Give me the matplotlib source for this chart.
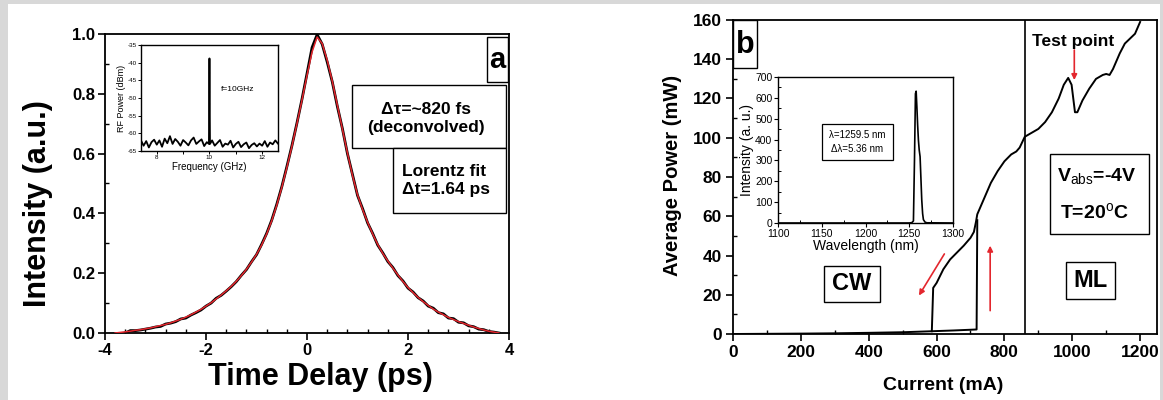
import numpy as np
import matplotlib
matplotlib.use("Agg")
import matplotlib.pyplot as plt
from matplotlib.patches import Rectangle
from matplotlib.ticker import MultipleLocator

plt.rcParams['font.family'] = ['Liberation Sans', 'DejaVu Sans']
plt.rcParams['mathtext.fontset'] = 'custom'
plt.rcParams['mathtext.rm'] = 'Liberation Sans'
plt.rcParams['mathtext.bf'] = 'Liberation Sans:bold'
plt.rcParams['axes.unicode_minus'] = False

# ---- panel a: autocorrelation trace
delay = np.round(np.arange(-3.6, 3.85, 0.1), 2)
intensity = [0.000, 0.008, 0.008, 0.010, 0.013, 0.016, 0.020, 0.022, 0.030, 0.033,
             0.038, 0.047, 0.050, 0.060, 0.068, 0.077, 0.090, 0.100, 0.116, 0.126,
             0.140, 0.155, 0.172, 0.193, 0.212, 0.238, 0.262, 0.296, 0.333, 0.377,
             0.430, 0.489, 0.556, 0.626, 0.702, 0.782, 0.868, 0.955, 0.998, 0.966,
             0.906, 0.840, 0.758, 0.684, 0.600, 0.530, 0.460, 0.416, 0.368, 0.333,
             0.294, 0.268, 0.239, 0.219, 0.192, 0.174, 0.150, 0.137, 0.118, 0.107,
             0.090, 0.083, 0.068, 0.064, 0.050, 0.048, 0.036, 0.034, 0.024, 0.021,
             0.013, 0.011, 0.005, 0.003, 0.000]

fit_t = np.round(np.arange(-3.8, 3.85, 0.1), 2)
fit_I = [0.000, 0.002, 0.004, 0.006, 0.009, 0.011, 0.014, 0.017, 0.021, 0.025,
         0.029, 0.034, 0.040, 0.046, 0.053, 0.061, 0.070, 0.079, 0.090, 0.101,
         0.114, 0.127, 0.141, 0.156, 0.173, 0.192, 0.213, 0.237, 0.263, 0.294,
         0.331, 0.375, 0.427, 0.487, 0.553, 0.624, 0.700, 0.779, 0.862, 0.940,
         0.990, 0.968, 0.912, 0.842, 0.762, 0.682, 0.602, 0.527, 0.462, 0.413,
         0.370, 0.331, 0.296, 0.266, 0.241, 0.217, 0.194, 0.172, 0.152, 0.135,
         0.119, 0.105, 0.092, 0.080, 0.070, 0.061, 0.052, 0.045, 0.038, 0.032,
         0.026, 0.020, 0.015, 0.010, 0.006, 0.003, 0.000]

# inset a: RF spectrum
freq = [7.4, 7.5, 7.6, 7.7, 7.8, 7.9, 8.0, 8.1, 8.2, 8.3, 8.4, 8.5, 8.6, 8.7, 8.8,
        8.9, 9.0, 9.1, 9.2, 9.3, 9.4, 9.5, 9.6, 9.7, 9.8, 9.9, 9.98, 10.0, 10.02,
        10.1, 10.2, 10.3, 10.4, 10.5, 10.6, 10.7, 10.8, 10.9, 11.0, 11.1, 11.2,
        11.3, 11.4, 11.5, 11.6, 11.7, 11.8, 11.9, 12.0, 12.1, 12.2, 12.3, 12.4,
        12.5, 12.6]
rf_power = [-62.0, -63.5, -62.2, -64.0, -62.5, -61.8, -63.2, -62.0, -63.8, -61.5,
            -62.8, -60.8, -63.0, -61.6, -62.4, -63.5, -61.9, -62.6, -63.4, -62.0,
            -61.2, -63.0, -62.3, -61.7, -63.6, -62.5, -63.0, -38.8, -63.0,
            -62.0, -63.5, -62.7, -61.9, -63.8, -62.9, -63.2, -62.1, -64.0, -63.0,
            -62.4, -63.9, -63.1, -62.6, -64.2, -63.3, -62.8, -63.7, -62.9, -63.5,
            -62.2, -63.8, -62.6, -63.1, -62.0, -62.9]

# ---- panel b: L-I curve
base_current = [0, 100, 200, 300, 400, 500, 585, 650, 718, 720]
base_power = [0, 0.1, 0.2, 0.35, 0.6, 0.9, 1.4, 1.8, 2.3, 58]
upper_current = [586, 590, 600, 620, 640, 660, 680, 700, 710, 716, 720, 740, 760,
                 780, 800, 820, 835, 845, 860, 880, 900, 920, 940, 960, 975, 988,
                 998, 1008, 1015, 1030, 1050, 1070, 1090, 1100, 1110, 1120, 1140,
                 1155, 1170, 1185, 1195, 1200]
upper_power = [1.4, 23.5, 26, 33, 38, 41.5, 45, 49, 52, 57, 61, 69, 77,
               83, 88, 91.5, 93, 95, 100.5, 102.5, 104.5, 108, 113, 120, 127, 130.5,
               127, 113, 113, 119, 125, 130, 132, 132.5, 132, 135, 143,
               148, 150.5, 153, 157, 159]

# inset b: optical spectrum
wavelength = [1100, 1150, 1200, 1250, 1253, 1254.7, 1255.9, 1257, 1257.8, 1258.6,
              1259.5, 1260.4, 1261.3, 1262.3, 1263.2, 1264.2, 1265.2, 1266.1,
              1268, 1270, 1300]
spectrum = [0, 0, 0, 0, 2, 10, 302, 620, 632, 560,
            470, 397, 350, 318, 220, 111, 45, 16,
            4, 1, 0]

RED = '#e3262d'

fig = plt.figure(figsize=(11.63, 4.0), dpi=100)
fig.patch.set_facecolor('#d8d8d8')
fig.add_artist(Rectangle((8 / 1163, 0), 1152 / 1163, 396 / 400, transform=fig.transFigure,
                         facecolor='white', edgecolor='none', zorder=-5))

# ================= panel a
ax1 = fig.add_axes([0.0903, 0.1675, 0.3474, 0.7475])
ax1.plot(delay, intensity, color='black', lw=2.0, zorder=2)
ax1.plot(fit_t, fit_I, color=RED, lw=1.1, zorder=3)
ax1.set_xlim(-4, 4)
ax1.set_ylim(0, 1.0)
ax1.xaxis.set_major_locator(MultipleLocator(2))
ax1.xaxis.set_minor_locator(MultipleLocator(0.4))
ax1.yaxis.set_major_locator(MultipleLocator(0.2))
ax1.yaxis.set_minor_locator(MultipleLocator(0.1))
ax1.yaxis.set_major_formatter(plt.FormatStrFormatter('%.1f'))
ax1.tick_params(which='major', direction='out', length=5, width=1.2, labelsize=12, pad=2)
ax1.tick_params(which='minor', direction='in', length=3, width=1)
for lab in ax1.get_xticklabels() + ax1.get_yticklabels():
    lab.set_fontweight('bold')
for s in ax1.spines.values():
    s.set_linewidth(1.3)

# label boxes
ax1.add_patch(Rectangle((0.946, 0.839), 0.052, 0.151, transform=ax1.transAxes,
                        facecolor='white', edgecolor='black', lw=1, zorder=5))
ax1.text(0.972, 0.912, 'a', transform=ax1.transAxes, ha='center', va='center',
         fontsize=21, fontweight='bold', zorder=6)
ax1.add_patch(Rectangle((0.611, 0.619), 0.382, 0.21, transform=ax1.transAxes,
                        facecolor='white', edgecolor='black', lw=1, zorder=5))
ax1.text(0.795, 0.717, 'Δτ=~820 fs\n(deconvolved)', transform=ax1.transAxes,
         ha='center', va='center', fontsize=12.5, fontweight='bold', linespacing=1.3, zorder=6)
ax1.add_patch(Rectangle((0.713, 0.401), 0.28, 0.218, transform=ax1.transAxes,
                        facecolor='white', edgecolor='black', lw=1, zorder=5))
ax1.text(0.734, 0.51, 'Lorentz fit\nΔt=1.64 ps', transform=ax1.transAxes,
         ha='left', va='center', fontsize=12.5, fontweight='bold', linespacing=1.3, zorder=6)

fig.text(38 / 1163, 1 - 204 / 400, 'Intensity (a.u.)', rotation=90, ha='center', va='center',
         fontsize=22, fontweight='bold')
fig.text(320 / 1163, 1 - 377 / 400, 'Time Delay (ps)', ha='center', va='center',
         fontsize=22, fontweight='bold')

# inset a
axi1 = fig.add_axes([0.1212, 0.6225, 0.1178, 0.265])
axi1.plot(freq, rf_power, color='black', lw=1.3)
axi1.set_xlim(7.4, 12.6)
axi1.set_ylim(-65, -35)
axi1.xaxis.set_major_locator(MultipleLocator(2))
axi1.xaxis.set_minor_locator(MultipleLocator(1))
axi1.yaxis.set_major_locator(MultipleLocator(5))
axi1.tick_params(which='both', direction='out', length=2, width=0.7, labelsize=4.5, pad=1)
axi1.set_xlabel('Frequency (GHz)', fontsize=7, labelpad=1)
axi1.set_ylabel('RF Power (dBm)', fontsize=6.5, labelpad=1)
axi1.text(11.08, -47.7, 'f=10GHz', ha='center', va='center', fontsize=6)
for s in axi1.spines.values():
    s.set_linewidth(1)

# ================= panel b
ax2 = fig.add_axes([0.6303, 0.165, 0.3646, 0.785])
ax2.plot(base_current, base_power, color='black', lw=1.4)
ax2.plot(upper_current, upper_power, color='black', lw=1.4)
ax2.axvline(860, color='black', lw=1.2)
ax2.set_xlim(0, 1250)
ax2.set_ylim(0, 160)
ax2.xaxis.set_major_locator(MultipleLocator(200))
ax2.xaxis.set_minor_locator(MultipleLocator(100))
ax2.yaxis.set_major_locator(MultipleLocator(20))
ax2.yaxis.set_minor_locator(MultipleLocator(10))
ax2.tick_params(which='major', direction='out', length=5, width=1.2, labelsize=12.5, pad=3)
ax2.tick_params(which='minor', direction='in', length=3, width=1)
for lab in ax2.get_xticklabels() + ax2.get_yticklabels():
    lab.set_fontweight('bold')
for s in ax2.spines.values():
    s.set_linewidth(1.3)

# boxes
ax2.add_patch(Rectangle((0, 135.5), 71, 24.5, facecolor='white', edgecolor='black', lw=1, zorder=5))
ax2.text(35, 147.5, 'b', ha='center', va='center', fontsize=22, fontweight='bold', zorder=6)
ax2.add_patch(Rectangle((268, 16.2), 166, 18.7, facecolor='white', edgecolor='black', lw=1, zorder=5))
ax2.text(351, 25.5, 'CW', ha='center', va='center', fontsize=17, fontweight='bold', zorder=6)
ax2.add_patch(Rectangle((983, 17.9), 143, 18.7, facecolor='white', edgecolor='black', lw=1, zorder=5))
ax2.text(1054, 27.2, 'ML', ha='center', va='center', fontsize=17, fontweight='bold', zorder=6)
ax2.add_patch(Rectangle((935, 51.1), 290, 40.8, facecolor='white', edgecolor='black', lw=1, zorder=5))
ax2.text(1071, 80, r'V$_{\rm abs}$=-4V', ha='center', va='center', fontsize=14, fontweight='bold', zorder=6)
ax2.text(1064, 62, r'T=20$^{\rm o}$C', ha='center', va='center', fontsize=14, fontweight='bold', zorder=6)
ax2.text(1003, 149, 'Test point', ha='center', va='center', fontsize=12.5, fontweight='bold')

# red arrows
arrow = dict(arrowstyle='-|>', color=RED, lw=1.2, mutation_scale=8, shrinkA=0, shrinkB=0)
ax2.annotate('', xy=(548, 19.6), xytext=(623, 40.8), arrowprops=arrow)
ax2.annotate('', xy=(758, 45), xytext=(758, 11.9), arrowprops=arrow)
ax2.annotate('', xy=(1006, 129.4), xytext=(1006, 144.7), arrowprops=arrow)

fig.text(673 / 1163, 1 - 175 / 400, 'Average Power (mW)', rotation=90, ha='center', va='center',
         fontsize=14.5, fontweight='bold')
fig.text(943 / 1163, 1 - 385 / 400, 'Current (mA)', ha='center', va='center',
         fontsize=14, fontweight='bold')

# inset b
axi2 = fig.add_axes([0.669, 0.4425, 0.1505, 0.365])
axi2.plot(wavelength, spectrum, color='black', lw=1.2)
axi2.set_xlim(1100, 1300)
axi2.set_ylim(0, 700)
axi2.xaxis.set_major_locator(MultipleLocator(50))
axi2.xaxis.set_minor_locator(MultipleLocator(25))
axi2.yaxis.set_major_locator(MultipleLocator(100))
axi2.yaxis.set_minor_locator(MultipleLocator(50))
axi2.tick_params(which='major', direction='out', length=3, width=0.8, labelsize=7.5, pad=1)
axi2.tick_params(which='minor', direction='in', length=2, width=0.7)
axi2.set_xlabel('Wavelength (nm)', fontsize=10, labelpad=0)
axi2.set_ylabel('Intensity (a. u.)', fontsize=10, labelpad=1)
axi2.add_patch(Rectangle((1150.3, 302), 81.1, 172.7, facecolor='white', edgecolor='black', lw=0.9))
axi2.text(1190.8, 388, 'λ=1259.5 nm\nΔλ=5.36 nm', ha='center', va='center', fontsize=7, linespacing=1.4)
for s in axi2.spines.values():
    s.set_linewidth(1)

fig.savefig('out.png', dpi=100, facecolor=fig.get_facecolor())
